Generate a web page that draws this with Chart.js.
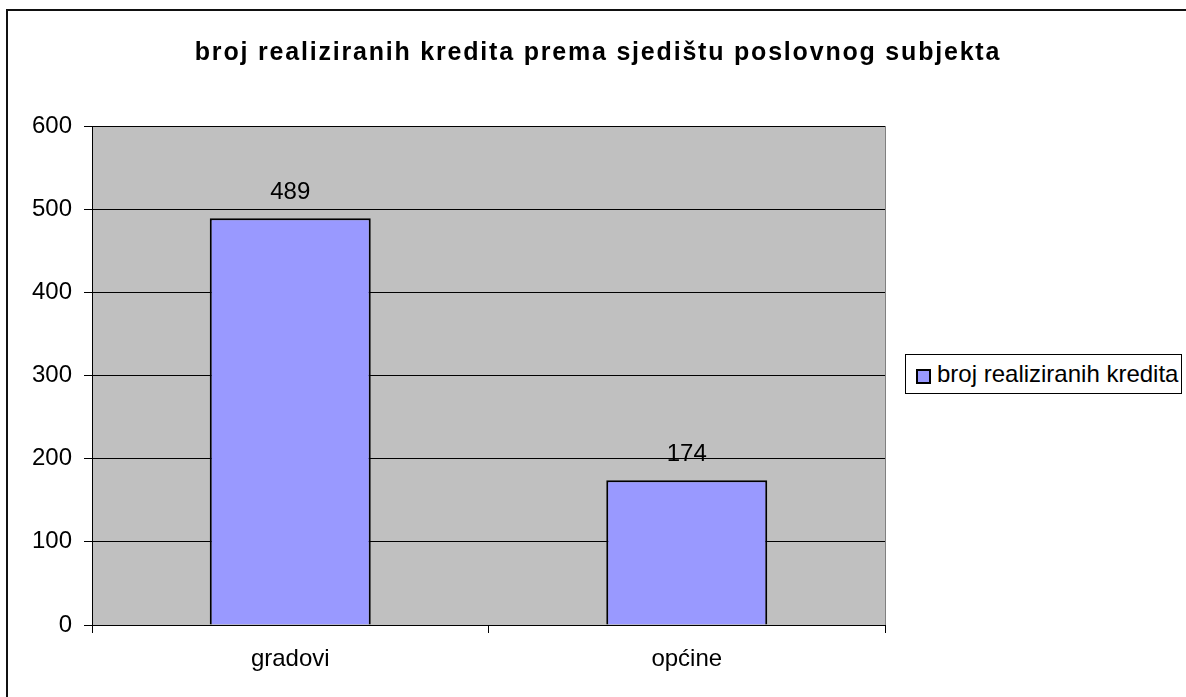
<!DOCTYPE html>
<html>
<head>
<meta charset="utf-8">
<script src="https://cdn.jsdelivr.net/npm/chart.js@4"></script>
<style>
    html, body { margin: 0; padding: 0; background: #fff; overflow: hidden; }
    #wrap { position: relative; width: 1186px; height: 697px; }
    #frame { position: absolute; left: 6px; top: 9px; width: 1200px; height: 720px; border: 2px solid #111; box-sizing: border-box; }
    #title { position: absolute; left: 0; width: 1196px; top: 37px; text-align: center;
        font: bold 25px "Liberation Sans", Arial, sans-serif; letter-spacing: 1.8px; color: #000; }
    #legend { position: absolute; left: 905px; top: 354px; width: 277px; height: 40px; box-sizing: border-box;
        border: 1px solid #000; background: #fff; font: 24px "Liberation Sans", Arial, sans-serif; color: #000; }
    #legend .sw { position: absolute; left: 10px; top: 14px; width: 15px; height: 15px; box-sizing: border-box;
        border: 2px solid #000; background: #9999FF; }
    #legend .lbl { position: absolute; left: 31px; top: 5px; white-space: nowrap; }
    canvas { position: absolute; left: 0; top: 0; }
</style>
</head>
<body>
<div id="wrap">
    <div id="frame"></div>
    <canvas id="chart" width="1186" height="697"></canvas>
    <div id="title"></div>
    <div id="legend"><div class="sw"></div><div class="lbl"></div></div>
</div>
<script>
// Chart data
const chartTitle = 'broj realiziranih kredita prema sjedištu poslovnog subjekta';
const seriesName = 'broj realiziranih kredita';
const categories = ['gradovi', 'općine'];
const values = [489, 174];
const yTicks = [0, 100, 200, 300, 400, 500, 600];

document.getElementById('title').textContent = chartTitle;
document.querySelector('#legend .lbl').textContent = seriesName;

// Gray plot background with border
const plotBackground = {
    id: 'plotBackground',
    beforeDraw(chart) {
        const { ctx, chartArea: a } = chart;
        ctx.save();
        ctx.fillStyle = '#C0C0C0';
        ctx.fillRect(a.left, a.top, a.right - a.left, a.bottom - a.top);
        ctx.strokeStyle = '#808080';
        ctx.lineWidth = 1;
        ctx.strokeRect(a.left + 0.5, a.top + 0.5, a.right - a.left, a.bottom - a.top);
        ctx.restore();
    }
};

// Value labels above bars
const valueLabels = {
    id: 'valueLabels',
    afterDatasetsDraw(chart) {
        const { ctx } = chart;
        const meta = chart.getDatasetMeta(0);
        ctx.save();
        ctx.font = '24px "Liberation Sans", Arial, sans-serif';
        ctx.fillStyle = '#000';
        ctx.textAlign = 'center';
        ctx.textBaseline = 'middle';
        meta.data.forEach((bar, i) => {
            ctx.fillText(String(values[i]), bar.x, bar.y - 26);
        });
        ctx.restore();
    }
};

Chart.defaults.font.family = '"Liberation Sans", Arial, sans-serif';
Chart.defaults.font.size = 24;
Chart.defaults.color = '#000';

new Chart(document.getElementById('chart'), {
    type: 'bar',
    data: {
        labels: categories,
        datasets: [{
            label: seriesName,
            data: values,
            backgroundColor: '#9999FF',
            borderColor: '#000',
            borderWidth: 2,
            borderSkipped: 'bottom',
            categoryPercentage: 1,
            barPercentage: 0.406
        }]
    },
    options: {
        responsive: false,
        animation: false,
        events: [],
        layout: { padding: { left: 0, top: 126, right: 301, bottom: 0 } },
        plugins: {
            legend: { display: false },
            tooltip: { enabled: false },
            title: { display: false }
        },
        scales: {
            x: {
                grid: { drawOnChartArea: false, drawTicks: true, tickLength: 8, color: '#000' },
                border: { color: '#000', width: 1 },
                ticks: { padding: 12 },
                afterFit(scale) { scale.height = 72; }
            },
            y: {
                min: 0,
                max: 600,
                afterBuildTicks(scale) { scale.ticks = yTicks.map(v => ({ value: v })); },
                grid: { color: '#000', tickLength: 8 },
                border: { color: '#000', width: 1 },
                ticks: { padding: 12 },
                afterFit(scale) { scale.width = 92; }
            }
        }
    },
    plugins: [plotBackground, valueLabels]
});
</script>
</body>
</html>
